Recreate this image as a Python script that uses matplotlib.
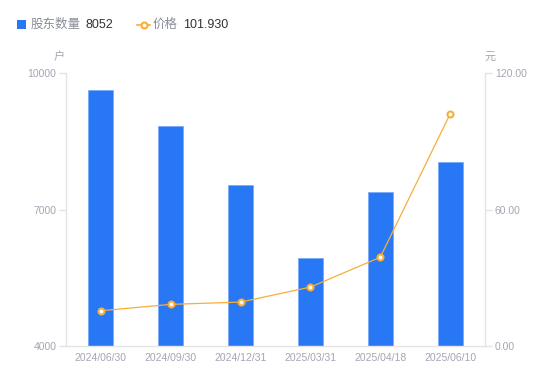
import matplotlib
matplotlib.use("Agg")
import matplotlib.pyplot as plt
from matplotlib.patches import Rectangle
from matplotlib.lines import Line2D
import numpy as np

plt.rcParams['font.family'] = ['Liberation Sans', 'Noto Sans CJK SC', 'DejaVu Sans']

categories = ["2024/06/30", "2024/09/30", "2024/12/31", "2025/03/31", "2025/04/18", "2025/06/10"]
holders = [9630, 8835, 7540, 5935, 7390, 8052]
price = [15.5, 18.3, 19.3, 25.9, 39.0, 101.93]
left_ticks = [4000, 7000, 10000]
right_ticks = [0, 60, 120]

BLUE = "#2878F5"
ORANGE = "#F7AE3A"
GRID = "#E3E4E8"
TICK = "#A3A6B4"

W, H = 550, 381
fig = plt.figure(figsize=(W/100, H/100), dpi=100)
ax = fig.add_axes([66/W, 1-346/H, (485-66)/W, (346-73)/H])
ax2 = ax.twinx()

x = np.arange(len(categories))
ax.bar(x, holders, width=0.36, color=BLUE, edgecolor="#7AAAF8", linewidth=0.6, zorder=2)
ax.set_ylim(4000, 10000)
ax.set_xlim(-0.5, len(categories)-0.5)
ax.set_yticks(left_ticks)
ax.set_yticklabels([str(v) for v in left_ticks])
ax.set_xticks(x)
ax.set_xticklabels(categories)

ax2.plot(x, price, color=ORANGE, linewidth=0.9, marker='o', markersize=4.3,
         markerfacecolor='white', markeredgecolor=ORANGE, markeredgewidth=1.5, zorder=3)
ax2.set_ylim(0, 120)
ax2.set_yticks(right_ticks)
ax2.set_yticklabels([f"{v:.2f}" for v in right_ticks])

for a in (ax, ax2):
    for s in a.spines.values():
        s.set_visible(False)
ax.spines['left'].set_visible(True)
ax.spines['bottom'].set_visible(True)
ax2.spines['right'].set_visible(True)
for s in (ax.spines['left'], ax.spines['bottom'], ax2.spines['right']):
    s.set_color(GRID)
    s.set_linewidth(1)

ax.tick_params(axis='y', colors=GRID, labelcolor=TICK, labelsize=7.5, length=5, width=1, pad=2)
ax.tick_params(axis='x', length=0, labelcolor=TICK, labelsize=7.5, pad=5)
ax2.tick_params(axis='y', colors=GRID, labelcolor=TICK, labelsize=7.5, length=5, width=1, pad=2)

# unit labels
fig.text(59/W, 1-57/H, "户", fontsize=8, color=TICK, ha='center', va='center')
fig.text(490/W, 1-57/H, "元", fontsize=8, color=TICK, ha='center', va='center')

# legend
fig.add_artist(Rectangle((17/W, 1-29/H), 9/W, 9/H, transform=fig.transFigure,
                         facecolor=BLUE, edgecolor='none'))
fig.text(31/W, 1-24.5/H, "股东数量", fontsize=9, color="#8A8D99", ha='left', va='center')
fig.text(85/W, 1-24.5/H, "8052", fontsize=9, color="#333333", ha='left', va='center')
fig.add_artist(Line2D([137/W, 150/W], [1-24.5/H, 1-24.5/H], transform=fig.transFigure,
                      color=ORANGE, linewidth=1.2))
fig.add_artist(Line2D([143.5/W], [1-24.5/H], transform=fig.transFigure, marker='o',
                      markersize=4.3, markerfacecolor='white', markeredgecolor=ORANGE,
                      markeredgewidth=1.5))
fig.text(153/W, 1-24.5/H, "价格", fontsize=9, color="#8A8D99", ha='left', va='center')
fig.text(183/W, 1-24.5/H, "101.930", fontsize=9, color="#333333", ha='left', va='center')

fig.savefig("out.png", dpi=100)
